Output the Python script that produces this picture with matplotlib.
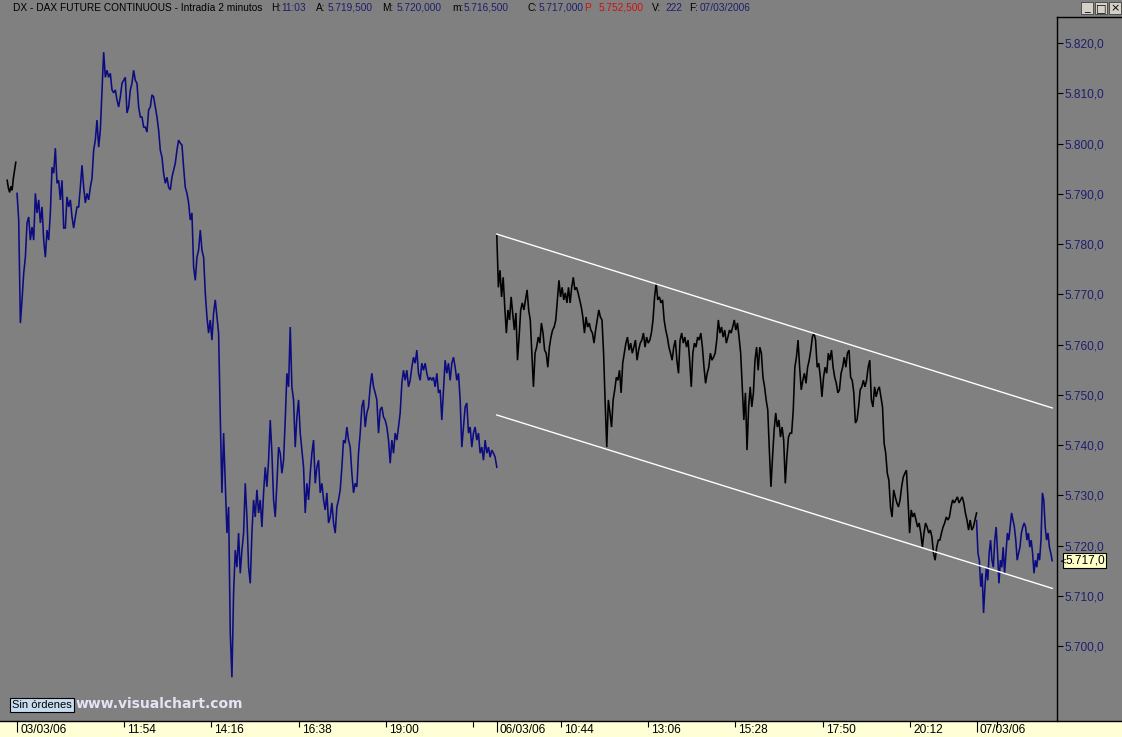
import matplotlib
matplotlib.use('Agg')
import matplotlib.pyplot as plt
import numpy as np
from matplotlib.patches import Rectangle
from matplotlib.lines import Line2D
from matplotlib import transforms as mtrans

# ---------------- data ----------------
# price closes, 2-minute DAX future
prices_0203 = [5792.7, 5791.1, 5790.3, 5791.5, 5790.7, 5793.1, 5794.7, 5796.3]

prices_0303 = [
    5790.1, 5784.8, 5764.3, 5768.9, 5774.2, 5777.4, 5784.2, 5785.4, 5780.8, 5783.4,
    5780.8, 5790.1, 5786.2, 5788.8, 5784.2, 5787.4, 5780.8, 5777.4, 5782.8, 5780.8,
    5786.2, 5795.3, 5794.1, 5799.1, 5792.1, 5792.7, 5788.8, 5792.7, 5783.2, 5783.2,
    5789.4, 5787.4, 5788.8, 5785.4, 5783.2, 5785.4, 5787.4, 5787.4, 5791.3, 5795.7,
    5791.3, 5788.2, 5790.1, 5788.8, 5791.3, 5793.1, 5798.7, 5800.7, 5804.7, 5799.3,
    5802.7, 5810.7, 5818.2, 5813.2, 5814.6, 5813.2, 5814.0, 5810.7, 5810.1, 5810.7,
    5808.7, 5807.3, 5809.3, 5812.0, 5812.6, 5813.2, 5806.1, 5807.3, 5810.7, 5812.0,
    5814.6, 5812.6, 5812.0, 5807.3, 5805.3, 5805.3, 5803.3, 5803.3, 5802.3, 5806.7,
    5807.3, 5809.7, 5809.3, 5807.3, 5805.3, 5802.7, 5798.7, 5797.3, 5794.1, 5792.1,
    5793.3, 5791.3, 5790.8, 5793.3, 5794.7, 5796.1, 5798.7, 5800.7, 5800.1, 5799.7,
    5795.3, 5791.3, 5790.1, 5788.2, 5784.8, 5786.2, 5775.4, 5772.8, 5777.4, 5778.8,
    5782.8, 5778.8, 5777.4, 5770.3, 5765.5, 5762.3, 5764.9, 5760.9, 5766.3, 5768.9,
    5765.5, 5762.3, 5745.6, 5730.5, 5742.4, 5732.4, 5722.5, 5727.7, 5702.6, 5693.8,
    5710.6, 5719.1, 5715.7, 5722.5, 5714.5, 5719.1, 5722.5, 5732.4, 5725.7, 5715.7,
    5712.5, 5722.5, 5729.1, 5725.7, 5731.1, 5726.5, 5729.1, 5723.7, 5730.5, 5735.6,
    5731.7, 5737.0, 5745.0, 5738.4, 5729.1, 5725.7, 5732.4, 5739.6, 5738.4, 5734.4,
    5737.0, 5745.0, 5754.3, 5751.6, 5763.5, 5751.6, 5749.0, 5739.6, 5745.6, 5749.0,
    5742.4, 5739.0, 5735.6, 5726.5, 5732.4, 5729.1, 5734.4, 5738.4, 5741.0, 5732.4,
    5735.6, 5737.0, 5730.5, 5732.4, 5729.1, 5727.1, 5730.5, 5724.5, 5725.7, 5728.5,
    5724.5, 5722.5, 5727.7, 5729.1, 5731.1, 5735.6, 5741.0, 5740.4, 5743.6, 5741.0,
    5739.6, 5734.4, 5730.5, 5732.4, 5731.7, 5738.4, 5742.4, 5747.6, 5749.0, 5743.6,
    5746.4, 5747.6, 5751.6, 5754.3, 5751.6, 5750.4, 5749.0, 5742.4, 5747.0, 5747.6,
    5745.6, 5745.0, 5743.6, 5741.0, 5736.4, 5741.0, 5738.4, 5742.4, 5741.0, 5743.6,
    5746.4, 5752.3, 5754.9, 5752.9, 5754.9, 5751.6, 5752.9, 5755.5, 5757.5, 5756.3,
    5758.9, 5754.3, 5752.9, 5756.3, 5754.9, 5756.3, 5754.3, 5752.9, 5753.5, 5752.9,
    5753.5, 5751.6, 5754.3, 5750.4, 5751.0, 5745.0, 5751.0, 5756.9, 5754.3, 5756.3,
    5752.9, 5756.3, 5757.5, 5755.5, 5752.9, 5754.3, 5749.0, 5739.6, 5743.6, 5747.6,
    5748.4, 5742.4, 5743.6, 5739.6, 5742.4, 5743.6, 5741.0, 5742.4, 5738.4, 5739.6,
    5737.0, 5741.0, 5738.4, 5739.6, 5737.6, 5739.0, 5738.4, 5737.6, 5735.6,
]

prices_0603 = [
    5781.8, 5771.4, 5774.8, 5769.5, 5773.4, 5767.5, 5762.3, 5766.9, 5764.9, 5769.5,
    5766.3, 5762.9, 5766.3, 5756.9, 5761.5, 5766.9, 5768.3, 5766.9, 5768.9, 5770.9,
    5766.9, 5764.9, 5758.3, 5751.6, 5758.3, 5759.5, 5761.5, 5760.3, 5764.3, 5762.3,
    5758.9, 5758.3, 5755.5, 5759.5, 5761.5, 5762.9, 5763.5, 5764.9, 5768.9, 5772.8,
    5769.5, 5771.4, 5768.9, 5770.3, 5768.3, 5771.4, 5768.3, 5771.4, 5773.4, 5770.9,
    5771.4, 5770.3, 5768.9, 5767.5, 5765.5, 5762.3, 5765.5, 5763.5, 5764.3, 5762.9,
    5762.3, 5760.3, 5762.9, 5764.9, 5766.9, 5765.5, 5764.9, 5758.3, 5748.4, 5739.6,
    5749.0, 5746.4, 5743.6, 5749.0, 5751.0, 5753.5, 5752.9, 5754.9, 5750.4, 5756.3,
    5758.3, 5760.3, 5761.5, 5758.9, 5760.3, 5758.3, 5759.5, 5760.9, 5756.9, 5758.9,
    5760.3, 5760.9, 5762.3, 5759.5, 5761.5, 5760.3, 5760.9, 5762.3, 5764.9, 5769.5,
    5772.2, 5768.9, 5769.5, 5768.3, 5768.9, 5764.9, 5762.9, 5761.5, 5759.5, 5758.3,
    5756.9, 5759.5, 5760.9, 5756.9, 5754.3, 5760.9, 5762.3, 5760.3, 5761.5, 5759.5,
    5760.9, 5756.9, 5751.6, 5758.3, 5760.3, 5759.5, 5761.5, 5760.9, 5762.3, 5759.5,
    5755.5, 5752.3, 5754.3, 5755.5, 5758.3, 5756.9, 5757.5, 5758.3, 5760.9, 5764.9,
    5762.3, 5763.5, 5761.5, 5762.9, 5760.3, 5761.5, 5762.9, 5762.3, 5763.5, 5764.9,
    5762.9, 5764.3, 5761.5, 5758.3, 5751.6, 5745.0, 5750.4, 5739.0, 5747.6, 5751.6,
    5747.6, 5750.4, 5756.9, 5759.5, 5754.9, 5759.5,
    5758.3, 5753.5, 5751.6, 5749.0, 5747.0, 5739.0, 5731.7, 5737.6, 5743.0, 5746.4,
    5743.6, 5745.0, 5741.6, 5743.6, 5741.0, 5732.4, 5737.6, 5741.6, 5742.4, 5742.4,
    5747.0, 5755.5, 5757.5, 5760.9, 5755.5, 5751.0, 5752.9, 5754.3, 5752.3, 5755.5,
    5756.9, 5758.9, 5761.5, 5762.3, 5760.9, 5755.5, 5756.3, 5753.5, 5749.6, 5753.5,
    5755.5, 5754.3, 5758.3, 5756.9, 5758.9, 5755.5, 5753.5, 5752.3, 5750.4, 5751.0,
    5754.3, 5755.5, 5757.5, 5755.5, 5758.3, 5758.9, 5753.5, 5752.9, 5750.4, 5744.4,
    5745.0, 5747.6, 5751.0, 5751.6, 5752.9, 5751.6, 5752.9, 5755.5, 5756.9, 5749.0,
    5747.6, 5751.6, 5749.6, 5751.0, 5751.6, 5749.6, 5747.6, 5740.4, 5738.4, 5734.4,
    5733.0, 5727.7, 5725.7, 5731.1, 5729.7, 5728.5, 5727.7, 5729.1, 5731.7, 5733.6,
    5734.4, 5735.0, 5729.1, 5722.5, 5727.1, 5725.7, 5726.5, 5725.1, 5723.7, 5724.5,
    5722.5, 5719.7, 5722.5, 5724.5, 5723.7, 5722.5, 5723.1, 5721.7, 5718.5, 5717.1,
    5719.7, 5721.1, 5721.1, 5722.5, 5723.7, 5724.5, 5725.7, 5725.1, 5725.7, 5727.7,
    5729.1, 5728.5, 5729.1, 5729.7, 5728.5, 5729.1, 5729.7, 5728.5, 5726.5, 5725.1,
    5723.1, 5725.1, 5723.1, 5723.7, 5725.1, 5726.5,
]

prices_0703 = [
    5725.0, 5718.5, 5717.1, 5711.8, 5714.5, 5706.6, 5711.8, 5715.7, 5713.1, 5718.5,
    5721.1, 5717.1, 5715.7, 5721.1, 5723.7, 5718.5, 5712.5, 5717.1, 5715.7, 5719.7,
    5714.5, 5718.5, 5722.5, 5721.1, 5723.7, 5726.5, 5725.1, 5723.7, 5721.1, 5717.1,
    5718.5, 5719.7, 5722.5, 5723.7, 5724.5, 5723.7, 5721.1, 5722.5, 5719.7, 5721.1,
    5718.5, 5714.5, 5717.1, 5715.7, 5718.5, 5717.1, 5721.1, 5730.5, 5729.1, 5723.7,
    5721.1, 5722.5, 5719.7, 5718.5, 5717.0,
]

# sessions: (trading-day index, first bar time, last bar time, prices, colour)
segments = [
    (-1, "21:44", "21:58", prices_0203, "#000000"),
    (0, "09:00", "22:00", prices_0303, "#0c0c80"),
    (1, "09:00", "22:00", prices_0603, "#000000"),
    (2, "09:00", "11:03", prices_0703, "#0c0c80"),
]

# regression channel drawn on the chart: (day, time, price)
channel_upper = [(1, "09:00", 5782.0), (2, "11:03", 5747.4)]
channel_lower = [(1, "09:00", 5746.0), (2, "11:03", 5711.5)]

date_ticks = [(0, "09:00", "03/03/06"), (1, "09:00", "06/03/06"), (2, "09:00", "07/03/06")]
time_ticks = [(0, "11:54", "11:54"), (0, "14:16", "14:16"), (0, "16:38", "16:38"),
              (0, "19:00", "19:00"), (0, "21:22", ""), (1, "10:44", "10:44"),
              (1, "13:06", "13:06"), (1, "15:28", "15:28"), (1, "17:50", "17:50"),
              (1, "20:12", "20:12"), (2, "09:34", "")]

y_ticks = [5700, 5710, 5720, 5730, 5740, 5750, 5760, 5770, 5780, 5790, 5800, 5810, 5820]
last_price = 5717.0

SESSION_OPEN = 9 * 60
SESSION_LEN = 13 * 60


def tmin(day, hhmm):
    h, m = map(int, hhmm.split(":"))
    return day * SESSION_LEN + h * 60 + m - SESSION_OPEN


def fmt_price(v):
    s = f"{v:,.1f}"
    return s.replace(",", "X").replace(".", ",").replace("X", ".")


# ---------------- figure ----------------
W, H = 1122, 737
GREY = "#808080"
NAVY = "#1e1e6e"
FONT = "Liberation Sans"

fig = plt.figure(figsize=(W / 100, H / 100), dpi=100)
fig.patch.set_facecolor(GREY)


def fx(px):
    return px / W


def fy(py):
    return 1 - py / H


AX_R, AX_T, AX_B = 1057, 17, 721
ax = fig.add_axes([0, fy(AX_B), AX_R / W, (AX_B - AX_T) / H])
ax.set_facecolor(GREY)

for day, t0, t1, pr, col in segments:
    x = np.linspace(tmin(day, t0), tmin(day, t1), len(pr))
    ax.plot(x, pr, color=col, lw=1.15, solid_joinstyle="miter")

for ch in (channel_upper, channel_lower):
    ax.plot([tmin(d, t) for d, t, _ in ch], [p for _, _, p in ch],
            color="white", lw=1.0)

ax.set_xlim(-27.7, 1690.8)
ax.set_ylim(5685.1, 5825.2)

for s in ("top", "left", "bottom"):
    ax.spines[s].set_visible(False)
ax.spines["right"].set_color("black")
ax.spines["right"].set_linewidth(1.0)

ax.yaxis.tick_right()
ax.set_yticks(y_ticks)
ax.set_yticklabels([fmt_price(v) for v in y_ticks])
ax.tick_params(axis="y", direction="out", length=4.5, width=0.8, color="black",
               labelcolor=NAVY, labelsize=8.6, pad=1)
for lab in ax.get_yticklabels():
    lab.set_fontfamily(FONT)

ax.set_xticks([tmin(d, t) for d, t, _ in date_ticks])
ax.set_xticks([tmin(d, t) for d, t, _ in time_ticks], minor=True)
ax.set_xticklabels([])
ax.tick_params(axis="x", which="major", direction="out", length=8, width=0.8,
               color="black", labelbottom=False)
ax.tick_params(axis="x", which="minor", direction="out", length=4, width=0.8,
               color="black", labelbottom=False)

lab_tr = mtrans.blended_transform_factory(ax.transData, ax.transAxes) + \
    mtrans.ScaledTranslation(3 / 100, -3 / 100, fig.dpi_scale_trans)
for d, t, lab in date_ticks + time_ticks:
    if lab:
        ax.text(tmin(d, t), 0, lab, transform=lab_tr, ha="left", va="top",
                fontsize=8.6, family=FONT, color="black", clip_on=False)

# last-price marker on the price scale
ax.annotate(fmt_price(last_price), xy=(1.0, last_price),
            xycoords=("axes fraction", "data"),
            xytext=(8, 0), textcoords="offset pixels", ha="left", va="center",
            fontsize=8.6, family=FONT, color="black",
            bbox=dict(boxstyle="square,pad=0.15", fc="#ffffc8", ec="black", lw=0.8),
            annotation_clip=False)
ax.annotate("<", xy=(1.0, last_price), xycoords=("axes fraction", "data"),
            xytext=(2, 0), textcoords="offset pixels", ha="left", va="center",
            fontsize=6, color="black", annotation_clip=False)

# ---------------- frame pieces ----------------
fig.patches.append(Rectangle((0, 0), 1, fy(AX_B), transform=fig.transFigure,
                             fc="#ffffd6", ec="none", zorder=-1))
fig.lines.append(Line2D([0, 1], [fy(AX_B), fy(AX_B)], transform=fig.transFigure,
                        color="black", lw=1.0))
fig.lines.append(Line2D([fx(AX_R), 1], [fy(AX_T), fy(AX_T)], transform=fig.transFigure,
                        color="black", lw=1.0))

# title bar
title_parts = [
    (13, "DX - DAX FUTURE CONTINUOUS - Intradía 2 minutos", "black"),
    (271, "H:", "black"), (281, "11:03", NAVY),
    (316, "A:", "black"), (328, "5.719,500", NAVY),
    (382, "M:", "black"), (397, "5.720,000", NAVY),
    (452, "m:", "black"), (464, "5.716,500", NAVY),
    (527, "C:", "black"), (539, "5.717,000", NAVY),
    (584, "P", "#d01010"), (599, "5.752,500", "#d01010"),
    (652, "V:", "black"), (665, "222", NAVY),
    (689, "F:", "black"), (700, "07/03/2006", NAVY),
]
for px, txt, col in title_parts:
    fig.text(fx(px), fy(8), txt, ha="left", va="center", fontsize=7.3,
             family=FONT, color=col)

# window buttons
for i, glyph in enumerate(["_", "□", "×"]):
    x0 = 1081 + i * 14
    fig.patches.append(Rectangle((fx(x0), fy(14)), 12 / W, 12 / H,
                                 transform=fig.transFigure, fc="#d4d0c8",
                                 ec="#404040", lw=0.6, zorder=3))
    fig.text(fx(x0 + 6), fy(8), glyph, ha="center", va="center", fontsize=8,
             color="black", family="DejaVu Sans", zorder=4)

# bottom-left badges
fig.text(fx(12), fy(705), "Sin órdenes", ha="left", va="center", fontsize=8,
         family=FONT, color="black",
         bbox=dict(boxstyle="square,pad=0.2", fc="#c8dcf0", ec="black", lw=0.8))
fig.text(fx(76), fy(704), "www.visualchart.com", ha="left", va="center",
         fontsize=10, family="DejaVu Sans", fontweight="bold", color="#e4e4f4")

fig.savefig("out.png", dpi=100, facecolor=GREY)
